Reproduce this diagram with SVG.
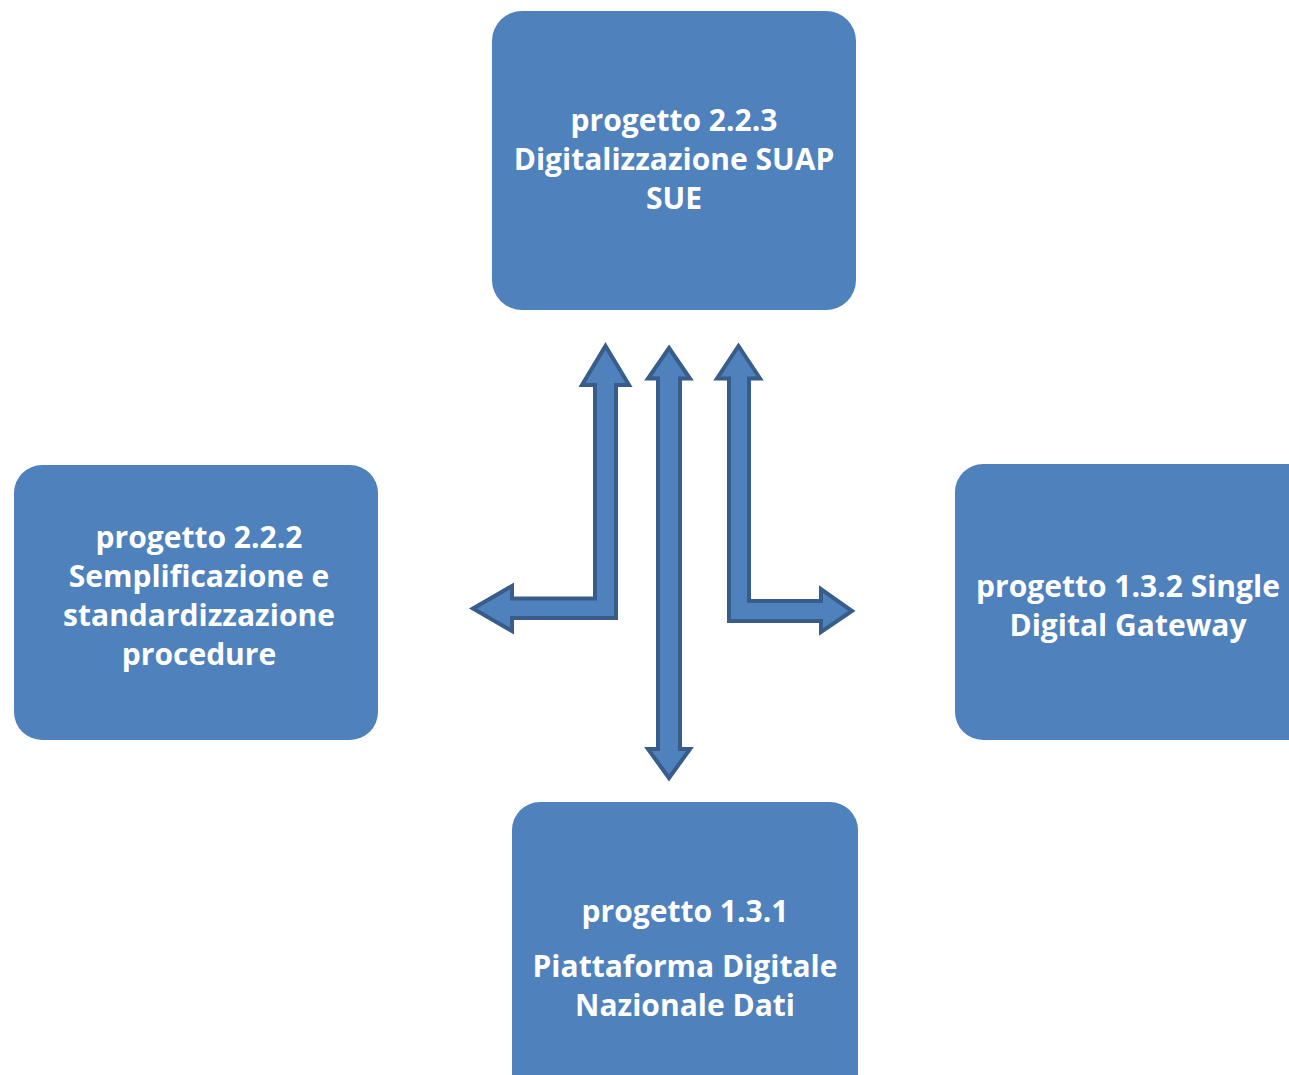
<svg xmlns="http://www.w3.org/2000/svg" width="1289" height="1075" viewBox="0 0 1289 1075">
<style>
.box{fill:#4f81bd}
.t{font-family:"Open Sans","Noto Sans",sans-serif;font-weight:bold;font-size:30px;fill:#ffffff;text-anchor:middle}
.arr{fill:#4f81bd;stroke:#385d8a;stroke-width:4;stroke-linejoin:miter}
</style>
<rect width="1289" height="1075" fill="#ffffff"/>
<g id="n-top">
<rect class="box" x="492" y="11" width="364" height="299" rx="30"/>
<text class="t" x="674" y="131">progetto 2.2.3</text>
<text class="t" x="674" y="170">Digitalizzazione SUAP</text>
<text class="t" x="674" y="209">SUE</text>
</g>
<g id="n-left">
<rect class="box" x="14" y="465" width="364" height="275" rx="28"/>
<text class="t" x="199" y="548">progetto 2.2.2</text>
<text class="t" x="199" y="587">Semplificazione e</text>
<text class="t" x="199" y="626">standardizzazione</text>
<text class="t" x="199" y="665">procedure</text>
</g>
<g id="n-right">
<rect class="box" x="955" y="464" width="364" height="276" rx="28"/>
<text class="t" x="1128" y="597">progetto 1.3.2 Single</text>
<text class="t" x="1128" y="636">Digital Gateway</text>
</g>
<g id="n-bottom">
<rect class="box" x="512" y="802" width="346" height="300" rx="28"/>
<text class="t" x="685" y="922">progetto 1.3.1</text>
<text class="t" x="685" y="977">Piattaforma Digitale</text>
<text class="t" x="685" y="1016">Nazionale Dati</text>
</g>
<g id="connectors">
<path class="arr" d="M605.5,346 L629,385 L616,385 L616,618 L512,618 L512,631 L473,608.5 L512,586 L512,598.5 L595,598.5 L595,385 L582,385 Z"/>
<path class="arr" d="M669,348 L690,378.5 L680,378.5 L680,749 L690,749 L669,778 L648,749 L658,749 L658,378.5 L648,378.5 Z"/>
<path class="arr" d="M738.5,346 L760,378.5 L749,378.5 L749,601 L821,601 L821,589 L852,611 L821,632 L821,621 L729,621 L729,378.5 L717,378.5 Z"/>
</g>
</svg>
